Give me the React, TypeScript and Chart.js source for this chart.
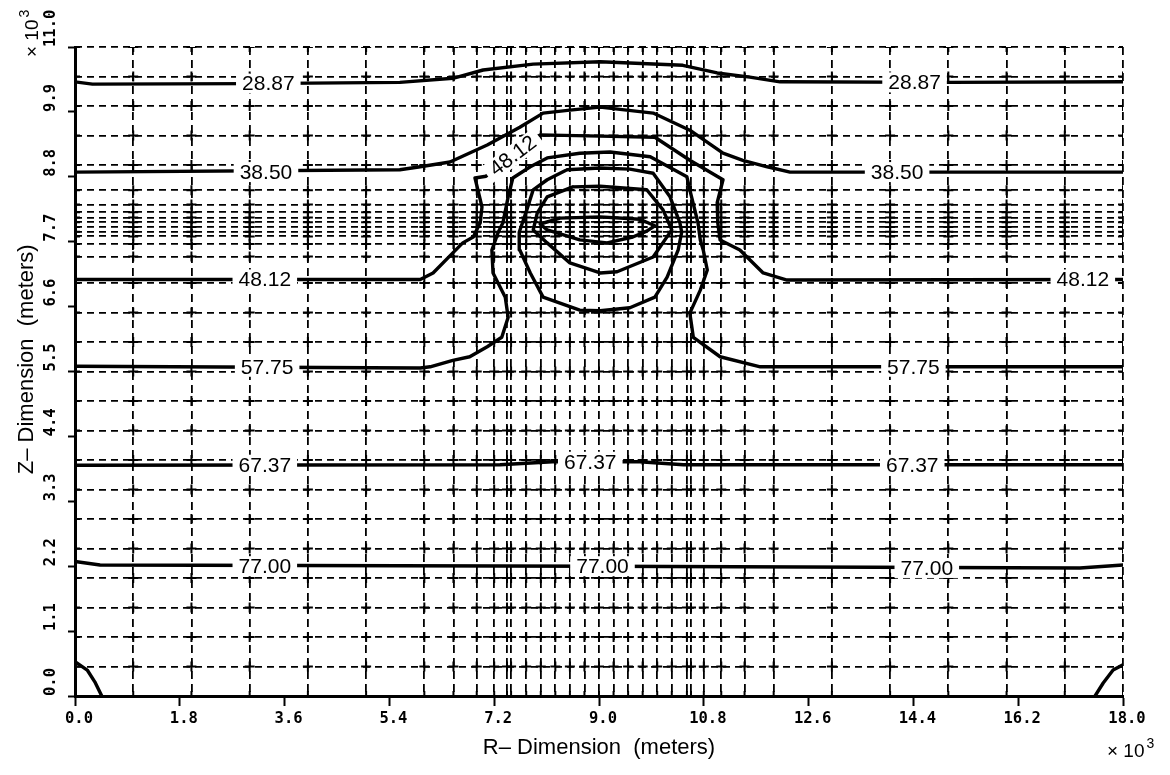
import { useEffect, useRef } from "react";
import { Chart, registerables } from "chart.js";

Chart.register(...registerables);

type Pt = [number, number];

// Computational mesh: columns in r and rows in z (×10^3 m)
const rNodes: number[] = [
  0, 1, 2, 3, 4, 5, 6, 6.5, 6.9, 7.2, 7.42, 7.49, 7.75, 8, 8.25, 8.5, 8.75, 9,
  9.25, 9.5, 9.75, 10, 10.25, 10.51, 10.58, 10.8, 11.1, 11.5, 12, 13, 14, 15, 16, 17, 18,
];
const zNodes: number[] = [
  0, 0.5, 1, 1.5, 2, 2.5, 3, 3.5, 4, 4.5, 5, 5.5, 6, 6.5, 7, 7.45, 7.66, 7.79, 7.87,
  7.95, 8.03, 8.11, 8.2, 8.33, 8.57, 9, 9.5, 10, 10.5, 11,
];

// Axis tick values (×10^3 m)
const rTicks: number[] = [0, 1.8, 3.6, 5.4, 7.2, 9.0, 10.8, 12.6, 14.4, 16.2, 18.0];
const zTicks: number[] = [0, 1.1, 2.2, 3.3, 4.4, 5.5, 6.6, 7.7, 8.8, 9.9, 11.0];

// Contour levels
const levels: number[] = [28.87, 38.5, 48.12, 57.75, 67.37, 77.0];

// Labelled isolines, [r, z]
const iso2887: Pt[] = [
  [0, 10.41], [0.3, 10.37], [3, 10.38], [5.58, 10.4], [6.49, 10.47], [7.01, 10.61],
  [7.87, 10.71], [9.02, 10.75], [10.44, 10.69], [11.03, 10.56], [11.59, 10.49],
  [12.11, 10.41], [15, 10.4], [18, 10.41],
];
const iso3850: Pt[] = [
  [0, 8.88], [5.58, 8.92], [5.93, 8.97], [6.44, 9.05], [7.08, 9.34], [7.64, 9.64],
  [8.04, 9.88], [8.5, 9.93], [9.02, 9.98], [9.93, 9.88], [10.56, 9.59], [11.13, 9.2],
  [11.47, 9.08], [11.89, 8.97], [12.28, 8.88], [18, 8.88],
];
const iso4812: Pt[] = [
  [0, 7.06], [5.93, 7.06], [6.15, 7.17], [6.49, 7.51], [6.66, 7.68], [6.84, 7.78],
  [6.96, 8.02], [6.99, 8.29], [6.92, 8.58], [6.87, 8.78], [7.06, 8.81], [7.99, 9.51],
  [9.02, 9.49], [9.96, 9.47], [10.56, 9.08], [11.13, 8.75], [11.03, 8.36], [11.04, 8.02],
  [11.08, 7.73], [11.42, 7.56], [11.82, 7.17], [12.23, 7.05], [18, 7.06],
];
const iso5775: Pt[] = [
  [0, 5.59], [5.93, 5.56], [6.1, 5.58], [6.49, 5.69], [6.78, 5.75], [7.08, 5.92],
  [7.33, 6.08], [7.44, 6.42], [7.39, 6.76], [7.18, 7.17], [7.16, 7.56], [7.27, 7.86],
  [7.35, 8.02], [7.44, 8.46], [7.52, 8.78], [7.82, 8.97], [8.11, 9.12], [8.67, 9.2],
  [9.19, 9.22], [9.88, 9.14], [10.51, 8.8], [10.56, 8.58], [10.7, 8.02], [10.74, 7.73],
  [10.79, 7.56], [10.86, 7.22], [10.74, 6.88], [10.56, 6.49], [10.62, 6.08],
  [11.08, 5.75], [11.77, 5.58], [18, 5.58],
];
const iso6737: Pt[] = [
  [0, 3.91], [7.3, 3.92], [8.2, 3.97], [9.7, 3.97], [10.45, 3.92], [18, 3.92],
];
const iso7700: Pt[] = [
  [0, 2.28], [0.43, 2.22], [9, 2.2], [17.26, 2.17], [18, 2.22],
];

// Closed isolines around the anomaly
const ringOuter: Pt[] = [
  [8.45, 8.92], [9.02, 8.95], [9.53, 8.93], [9.93, 8.86], [10.22, 8.46], [10.39, 8.02],
  [10.42, 7.86], [10.36, 7.56], [10.17, 7.1], [9.96, 6.76], [9.53, 6.58], [9.02, 6.53],
  [8.67, 6.54], [8.04, 6.76], [7.82, 7.17], [7.64, 7.56], [7.63, 7.86], [7.76, 8.24],
  [7.87, 8.58], [8.11, 8.75], [8.45, 8.92],
];
const ringMiddle: Pt[] = [
  [8.55, 8.63], [9.02, 8.64], [9.82, 8.58], [10.1, 8.24], [10.25, 7.9], [9.93, 7.44],
  [9.31, 7.19], [9.02, 7.17], [8.5, 7.34], [8.11, 7.68], [7.87, 7.9], [7.94, 8.19],
  [8.11, 8.46], [8.55, 8.63],
];
const ringCore: Pt[] = [
  [7.99, 8.0], [8.33, 8.1], [9.02, 8.12], [9.7, 8.08], [9.96, 7.97], [9.82, 7.88],
  [9.58, 7.78], [9.14, 7.68], [8.67, 7.73], [8.11, 7.9], [7.99, 8.0],
];

// Isolines cutting the lower corners
const cornerLeft: Pt[] = [[0, 0.58], [0.21, 0.44], [0.34, 0.24], [0.46, 0]];
const cornerRight: Pt[] = [[18, 0.53], [17.83, 0.44], [17.66, 0.22], [17.52, 0]];

const isolines: Pt[][] = [iso2887, iso3850, iso4812, iso5775, iso6737, iso7700];
const unlabelled: Pt[][] = [ringOuter, ringMiddle, ringCore, cornerLeft, cornerRight];

// Where each level value is written along its line
const labelStations: { level: number; r: number; z: number; angle?: number }[] = [
  { level: levels[0], r: 3.32, z: 10.38 },
  { level: levels[0], r: 14.42, z: 10.4 },
  { level: levels[1], r: 3.28, z: 8.88 },
  { level: levels[1], r: 14.12, z: 8.88 },
  { level: levels[2], r: 3.26, z: 7.06 },
  { level: levels[2], r: 7.52, z: 9.16, angle: -37 },
  { level: levels[2], r: 17.31, z: 7.06 },
  { level: levels[3], r: 3.3, z: 5.58 },
  { level: levels[3], r: 14.4, z: 5.58 },
  { level: levels[4], r: 3.26, z: 3.92 },
  { level: levels[4], r: 8.85, z: 3.97 },
  { level: levels[4], r: 14.38, z: 3.92 },
  { level: levels[5], r: 3.26, z: 2.2 },
  { level: levels[5], r: 9.06, z: 2.2 },
  { level: levels[5], r: 14.63, z: 2.17 },
];

const SANS = "'Liberation Sans', Arial, Helvetica, sans-serif";
const MONO = "'DejaVu Sans Mono', 'Liberation Mono', monospace";

const toXY = (pts: Pt[]) => pts.map(([r, z]) => ({ x: r, y: z }));

const lineDataset = (pts: Pt[]) => ({
  type: "line" as const,
  data: toXY(pts),
  borderColor: "#000",
  borderWidth: 3.4,
  pointRadius: 0,
  pointHoverRadius: 0,
  fill: false,
  tension: 0,
  borderJoinStyle: "round" as const,
  borderCapStyle: "round" as const,
  xAxisID: "x",
  yAxisID: "y",
  order: 1,
});

// Writes level values inline (blanking the line beneath), the rotated z tick
// labels and the ×10³ multipliers
const annotations = {
  id: "isolineText",
  afterDatasetsDraw(chart: any) {
    const { ctx, scales } = chart;
    const xs = scales.x;
    const ys = scales.y;
    ctx.save();
    ctx.font = `21px ${SANS}`;
    ctx.textAlign = "center";
    ctx.textBaseline = "middle";
    for (const st of labelStations) {
      const px = xs.getPixelForValue(st.r);
      const py = ys.getPixelForValue(st.z);
      const text = st.level.toFixed(2);
      const w = ctx.measureText(text).width;
      ctx.save();
      ctx.translate(px, py);
      ctx.rotate(((st.angle || 0) * Math.PI) / 180);
      ctx.fillStyle = "#fff";
      ctx.fillRect(-w / 2 - 6, -10, w + 12, 20);
      ctx.fillStyle = "#000";
      ctx.fillText(text, 0, 1);
      ctx.restore();
    }
    ctx.restore();
  },
  afterDraw(chart: any) {
    const { ctx } = chart;
    const ys = chart.scales.y;
    ctx.save();
    ctx.fillStyle = "#000";

    // z tick labels, reading upward from each tick
    ctx.font = `bold 15.5px ${MONO}`;
    ctx.textAlign = "left";
    ctx.textBaseline = "middle";
    ys.ticks.forEach((t: any, i: number) => {
      const py = ys.getPixelForTick(i);
      ctx.save();
      ctx.translate(ys.left, py);
      ctx.rotate(-Math.PI / 2);
      ctx.fillText(Number(t.value).toFixed(1), 0, 0);
      ctx.restore();
    });

    ctx.textAlign = "left";
    ctx.textBaseline = "alphabetic";
    // bottom-right multiplier
    ctx.font = `19px ${SANS}`;
    ctx.fillText("\u00d7 10", 1107, 757);
    const wb = ctx.measureText("\u00d7 10").width;
    ctx.font = `14px ${SANS}`;
    ctx.fillText("3", 1107 + wb + 2, 748);
    // top-left multiplier, along the vertical axis
    ctx.translate(38, 57);
    ctx.rotate(-Math.PI / 2);
    ctx.font = `19px ${SANS}`;
    ctx.fillText("\u00d7 10", 0, 0);
    const wt = ctx.measureText("\u00d7 10").width;
    ctx.font = `14px ${SANS}`;
    ctx.fillText("3", wt + 2, -9);
    ctx.restore();
  },
};

export default function App() {
  const ref = useRef<HTMLCanvasElement>(null);

  useEffect(() => {
    const canvas = ref.current;
    if (!canvas) return;

    const meshNodes = rNodes.flatMap((r) => zNodes.map((z) => ({ x: r, y: z })));
    const tickFont = { family: MONO, size: 15.5, weight: "bold" as const };
    const titleFont = { family: SANS, size: 22 };

    const chart = new Chart(canvas, {
      type: "scatter",
      data: {
        datasets: [
          ...isolines.map((pts) => lineDataset(pts)),
          ...unlabelled.map((pts) => lineDataset(pts)),
          {
            type: "scatter" as const,
            data: meshNodes,
            pointStyle: "cross",
            pointRadius: 5,
            pointHoverRadius: 5,
            borderWidth: 2,
            borderColor: "#000",
            backgroundColor: "#000",
            xAxisID: "x",
            yAxisID: "y",
            clip: 0,
            order: 2,
          },
        ] as any,
      },
      options: {
        responsive: false,
        animation: false,
        events: [],
        layout: { padding: { top: 47, right: 47, left: 0, bottom: 0 } },
        plugins: {
          legend: { display: false },
          tooltip: { enabled: false },
        },
        scales: {
          x: {
            type: "linear",
            axis: "x",
            position: "bottom",
            weight: 0,
            min: 0,
            max: 18,
            afterBuildTicks: (s: any) => {
              s.ticks = rTicks.map((v) => ({ value: v }));
            },
            afterFit: (s: any) => {
              s.height = 79;
            },
            ticks: {
              autoSkip: false,
              maxRotation: 0,
              padding: 4,
              labelOffset: 4,
              color: "#000",
              font: tickFont,
              callback: (v: any) => Number(v).toFixed(1),
            },
            grid: {
              drawOnChartArea: false,
              drawTicks: true,
              tickLength: 10,
              tickWidth: 2,
              tickColor: "#000",
            },
            border: { display: true, color: "#000", width: 3 },
            title: {
              display: true,
              text: "R\u2013 Dimension  (meters)",
              color: "#000",
              font: titleFont,
              padding: { top: 0, bottom: 14 },
            },
          },
          xMesh: {
            type: "linear",
            axis: "x",
            position: "bottom",
            weight: 1,
            min: 0,
            max: 18,
            afterBuildTicks: (s: any) => {
              s.ticks = rNodes.map((v) => ({ value: v }));
            },
            afterFit: (s: any) => {
              s.height = 0;
            },
            ticks: { display: false, autoSkip: false },
            grid: { drawOnChartArea: true, drawTicks: false, color: "#000", lineWidth: 1.8 },
            border: { display: false, dash: [8, 5] },
          },
          y: {
            type: "linear",
            axis: "y",
            position: "left",
            weight: 0,
            min: 0,
            max: 11,
            afterBuildTicks: (s: any) => {
              s.ticks = zTicks.map((v) => ({ value: v }));
            },
            afterFit: (s: any) => {
              s.width = 24;
            },
            ticks: { display: false, autoSkip: false },
            grid: {
              drawOnChartArea: false,
              drawTicks: true,
              tickLength: 7,
              tickWidth: 2,
              tickColor: "#000",
            },
            border: { display: true, color: "#000", width: 3 },
          },
          yMesh: {
            type: "linear",
            axis: "y",
            position: "left",
            weight: 1,
            min: 0,
            max: 11,
            afterBuildTicks: (s: any) => {
              s.ticks = zNodes.map((v) => ({ value: v }));
            },
            afterFit: (s: any) => {
              s.width = 51;
            },
            ticks: { display: false, autoSkip: false },
            grid: { drawOnChartArea: true, drawTicks: false, color: "#000", lineWidth: 1.8 },
            border: { display: false, dash: [7, 5] },
            title: {
              display: true,
              text: "    Z\u2013 Dimension  (meters)",
              color: "#000",
              font: titleFont,
              padding: { top: 14, bottom: 0 },
            },
          },
        } as any,
      },
      plugins: [annotations],
    });

    return () => chart.destroy();
  }, []);

  return (
    <div
      style={{
        position: "fixed",
        left: 0,
        top: 0,
        width: 1170,
        height: 775,
        background: "#fff",
      }}
    >
      <canvas ref={ref} width={1170} height={775} style={{ display: "block", width: 1170, height: 775 }} />
    </div>
  );
}
